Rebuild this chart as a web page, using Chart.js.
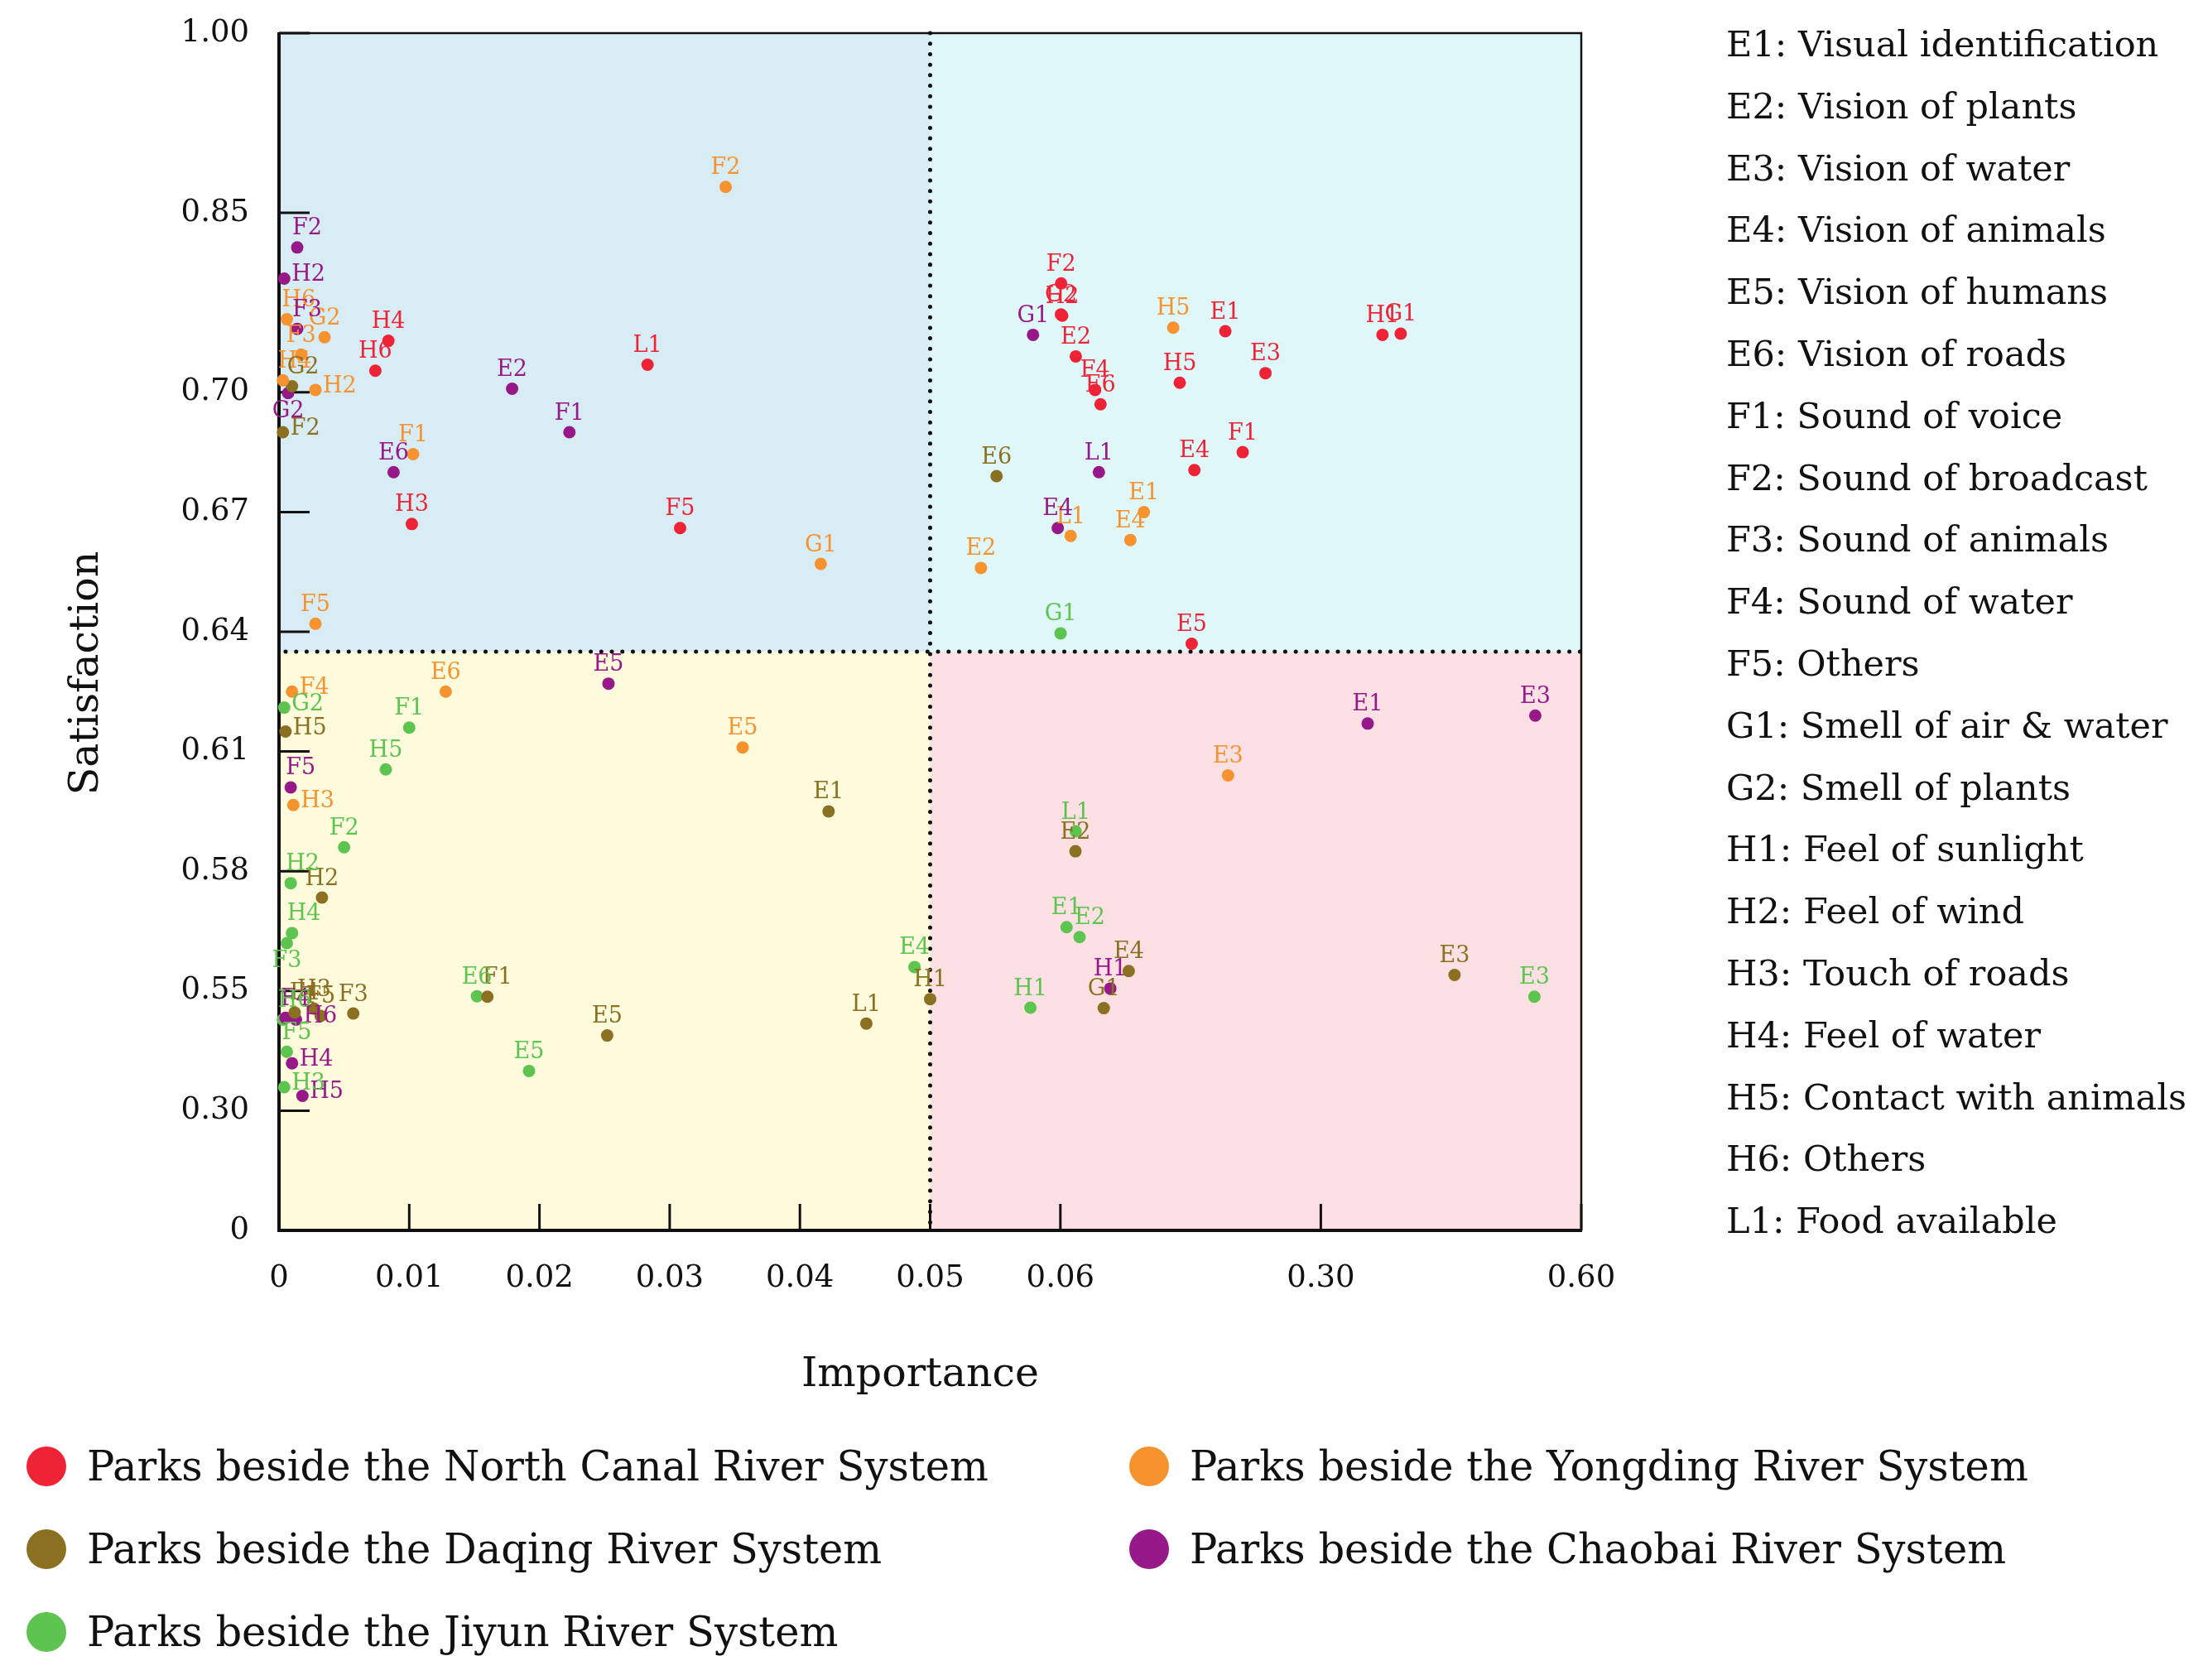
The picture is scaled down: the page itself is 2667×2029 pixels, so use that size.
<!DOCTYPE html>
<html>
<head>
<meta charset="utf-8">
<script src="https://cdn.jsdelivr.net/npm/chart.js@4.4.1/dist/chart.umd.min.js"></script>
<style>
  html, body { margin: 0; padding: 0; background: #ffffff; }
  #wrap { position: relative; width: 2667px; height: 2029px; overflow: hidden; font-family: 'DejaVu Serif', serif; color: #111111; }
  #c { position: absolute; left: 0; top: 0; }
  #codes { position: absolute; left: 2085px; top: 16px; font-size: 43px; line-height: 74.8px; white-space: nowrap; }
  #legend { position: absolute; left: 32px; top: 1721px; display: grid; grid-template-columns: 1332px 1000px; grid-auto-rows: 100px; }
  #legend .item { display: flex; align-items: center; font-size: 49.5px; white-space: nowrap; }
  #legend .dot { width: 48px; height: 48px; border-radius: 50%; margin-right: 25px; flex: none; }
</style>
</head>
<body>
<div id="wrap">
  <canvas id="c" width="2667" height="2029"></canvas>
  <div id="codes"></div>
  <div id="legend"></div>
</div>
<script>
// ---------------- data ----------------
const xTickValues = [0, 0.01, 0.02, 0.03, 0.04, 0.05, 0.06, 0.30, 0.60];
const yTickValues = [0, 0.30, 0.55, 0.58, 0.61, 0.64, 0.67, 0.70, 0.85, 1.00];
const importanceSplit = 0.05;
const satisfactionSplit = 0.635;

const seriesNames = [
  'Parks beside the North Canal River System',
  'Parks beside the Yongding River System',
  'Parks beside the Daqing River System',
  'Parks beside the Chaobai River System',
  'Parks beside the Jiyun River System'
];

const northCanalCodes = ['E1','E2','E3','E4','E5','E6','F1','F2','F4','F5','G1','G2','H1','H2','H3','H4','H5','H6','L1'];
const northCanalImportance = [0.212, 0.0742, 0.249, 0.1835, 0.181, 0.097, 0.228, 0.0607, 0.092, 0.0308, 0.392, 0.0605, 0.371, 0.0617, 0.0102, 0.0084, 0.170, 0.0074, 0.0283];
const northCanalSatisfaction = [0.751, 0.730, 0.716, 0.6805, 0.637, 0.697, 0.685, 0.791, 0.702, 0.666, 0.749, 0.765, 0.748, 0.764, 0.667, 0.743, 0.708, 0.718, 0.723];

const yongdingCodes = ['E1','E2','E3','E4','E5','E6','F1','F2','F3','F4','F5','G1','G2','H2','H3','H4','H5','H6','L1'];
const yongdingImportance = [0.137, 0.0539, 0.2145, 0.1245, 0.0356, 0.0128, 0.0103, 0.0343, 0.0017, 0.001, 0.0028, 0.0416, 0.0035, 0.0028, 0.0011, 0.0003, 0.164, 0.0006, 0.0695];
const yongdingSatisfaction = [0.670, 0.656, 0.604, 0.663, 0.611, 0.625, 0.6845, 0.8715, 0.7315, 0.625, 0.642, 0.657, 0.746, 0.702, 0.5966, 0.710, 0.754, 0.761, 0.664];

const daqingCodes = ['E1','E2','E3','E4','E5','E6','F1','F2','F3','F5','G1','G2','H1','H2','H3','H5','L1','F4'];
const daqingImportance = [0.0422, 0.0739, 0.454, 0.123, 0.0252, 0.0551, 0.016, 0.0003, 0.0057, 0.0032, 0.100, 0.001, 0.050, 0.0033, 0.0027, 0.0005, 0.0451, 0.0012];
const daqingSatisfaction = [0.595, 0.585, 0.554, 0.555, 0.457, 0.679, 0.538, 0.690, 0.503, 0.498, 0.514, 0.705, 0.533, 0.5734, 0.513, 0.615, 0.482, 0.505];

const chaobaiCodes = ['E1','E2','E3','E4','E5','E6','F1','F2','F3','F5','G1','G2','H1','H2','H4','H5','H6','L1','F4'];
const chaobaiImportance = [0.354, 0.0179, 0.547, 0.0598, 0.0253, 0.0088, 0.0223, 0.0014, 0.0014, 0.0009, 0.0579, 0.0007, 0.106, 0.0004, 0.001, 0.0018, 0.0013, 0.0955, 0.0005];
const chaobaiSatisfaction = [0.617, 0.703, 0.619, 0.666, 0.627, 0.680, 0.690, 0.821, 0.753, 0.601, 0.748, 0.6998, 0.5506, 0.795, 0.399, 0.331, 0.490, 0.680, 0.494];

const jiyunCodes = ['E1','E2','E3','E4','E5','E6','F1','F2','F3','F5','G1','G2','H1','H2','H3','H4','H5','L1','H6'];
const jiyunImportance = [0.0657, 0.0777, 0.546, 0.0488, 0.0192, 0.0152, 0.010, 0.005, 0.0006, 0.0006, 0.0602, 0.0004, 0.0577, 0.0009, 0.0004, 0.001, 0.0082, 0.0741, 0.0003];
const jiyunSatisfaction = [0.566, 0.5635, 0.538, 0.556, 0.383, 0.539, 0.616, 0.586, 0.562, 0.423, 0.6396, 0.621, 0.515, 0.577, 0.349, 0.5645, 0.6055, 0.590, 0.490];

const factorDescriptions = [
  'E1: Visual identification', 'E2: Vision of plants', 'E3: Vision of water', 'E4: Vision of animals',
  'E5: Vision of humans', 'E6: Vision of roads', 'F1: Sound of voice', 'F2: Sound of broadcast',
  'F3: Sound of animals', 'F4: Sound of water', 'F5: Others', 'G1: Smell of air & water',
  'G2: Smell of plants', 'H1: Feel of sunlight', 'H2: Feel of wind', 'H3: Touch of roads',
  'H4: Feel of water', 'H5: Contact with animals', 'H6: Others', 'L1: Food available'
];

// ---------------- presentation ----------------
const seriesColors = ['#ee2436', '#f7932f', '#8a7020', '#961889', '#5dc450'];
// axis break layout: fraction of the axis length at each tick value
const xStops = [0, 0.1, 0.2, 0.3, 0.4, 0.5, 0.6, 0.8, 1.0];
const yStops = [0, 0.1, 0.2, 0.3, 0.4, 0.5, 0.6, 0.7, 0.85, 1.0];
// axis-title nudges (pixels) to match the original placement
const titleShift = { x: [-12, 0], y: [0, 50] };
// label placement hints (default: above the point)
const labelPlacement = {
  '1|H6': 'tr', '1|H4': 'tr', '1|H2': 'r', '1|F4': 'r', '1|H3': 'r',
  '2|G2': 'tr', '2|F2': 'r', '2|H5': 'r', '2|F1': 'tr', '2|F4': 'tr',
  '3|F2': 'tr', '3|H2': 'r', '3|F3': 'tr', '3|G2': 'b', '3|F5': 'tr', '3|H6': 'r', '3|H4': 'r', '3|H5': 'r', '3|F4': 'tr',
  '4|G2': 'r', '4|H2': 'tr', '4|H4': 'tr', '4|F3': 'b', '4|F5': 'tr', '4|H3': 'r', '4|E2': 'tr', '4|H6': 'tr'
};

// ---------------- piecewise scale ----------------
class PiecewiseScale extends Chart.LinearScale {
  static id = 'piecewise';
  static defaults = {};
  _maps() {
    return this.axis === 'x' ? [xTickValues, xStops] : [yTickValues, yStops];
  }
  determineDataLimits() {
    const [b] = this._maps();
    this.min = b[0];
    this.max = b[b.length - 1];
  }
  buildTicks() {
    const [b] = this._maps();
    this.min = b[0];
    this.max = b[b.length - 1];
    return b.map(v => ({ value: v }));
  }
  _toDecimal(v) {
    const [b, p] = this._maps();
    if (v <= b[0]) return p[0];
    for (let i = 1; i < b.length; i++) {
      if (v <= b[i]) return p[i - 1] + (v - b[i - 1]) / (b[i] - b[i - 1]) * (p[i] - p[i - 1]);
    }
    return p[p.length - 1];
  }
  getPixelForValue(v) {
    if (v === null || v === undefined || isNaN(v)) return NaN;
    return this.getPixelForDecimal(this._toDecimal(v));
  }
  getValueForPixel(px) {
    const [b, p] = this._maps();
    const d = this.getDecimalForPixel(px);
    for (let i = 1; i < p.length; i++) {
      if (d <= p[i]) return b[i - 1] + (d - p[i - 1]) / (p[i] - p[i - 1]) * (b[i] - b[i - 1]);
    }
    return b[b.length - 1];
  }
  drawTitle() {
    const s = titleShift[this.axis] || [0, 0];
    this.ctx.save();
    this.ctx.translate(s[0], s[1]);
    super.drawTitle();
    this.ctx.restore();
  }
}
Chart.register(PiecewiseScale);

function buildPoints(imp, sat) { return imp.map((v, i) => ({ x: v, y: sat[i] })); }
const seriesCodes = [northCanalCodes, yongdingCodes, daqingCodes, chaobaiCodes, jiyunCodes];
const seriesPoints = [
  buildPoints(northCanalImportance, northCanalSatisfaction),
  buildPoints(yongdingImportance, yongdingSatisfaction),
  buildPoints(daqingImportance, daqingSatisfaction),
  buildPoints(chaobaiImportance, chaobaiSatisfaction),
  buildPoints(jiyunImportance, jiyunSatisfaction)
];

const quadrantPlugin = {
  id: 'quadrants',
  beforeDatasetsDraw(chart) {
    const { ctx, chartArea: a, scales: { x, y } } = chart;
    const xm = x.getPixelForValue(importanceSplit);
    const ym = y.getPixelForValue(satisfactionSplit);
    ctx.save();
    ctx.fillStyle = '#d8ecf6'; ctx.fillRect(a.left, a.top, xm - a.left, ym - a.top);
    ctx.fillStyle = '#dff7f9'; ctx.fillRect(xm, a.top, a.right - xm, ym - a.top);
    ctx.fillStyle = '#fefadc'; ctx.fillRect(a.left, ym, xm - a.left, a.bottom - ym);
    ctx.fillStyle = '#fde0e3'; ctx.fillRect(xm, ym, a.right - xm, a.bottom - ym);
    // dotted split lines
    ctx.strokeStyle = '#111111';
    ctx.lineWidth = 5;
    ctx.lineCap = 'round';
    ctx.setLineDash([0.01, 12.7]);
    ctx.beginPath(); ctx.moveTo(a.left + 8, ym); ctx.lineTo(a.right, ym); ctx.stroke();
    ctx.beginPath(); ctx.moveTo(xm, a.top); ctx.lineTo(xm, a.bottom); ctx.stroke();
    ctx.setLineDash([]);
    ctx.lineCap = 'butt';
    // inward tick marks
    ctx.lineWidth = 3;
    ctx.strokeStyle = '#111111';
    y.ticks.forEach(t => {
      const py = y.getPixelForValue(t.value);
      ctx.beginPath(); ctx.moveTo(a.left, py); ctx.lineTo(a.left + 37, py); ctx.stroke();
    });
    x.ticks.forEach(t => {
      const px = x.getPixelForValue(t.value);
      ctx.beginPath(); ctx.moveTo(px, a.bottom); ctx.lineTo(px, a.bottom - 32); ctx.stroke();
    });
    // frame
    ctx.lineWidth = 2.5;
    ctx.beginPath(); ctx.moveTo(a.left, a.top); ctx.lineTo(a.right, a.top); ctx.lineTo(a.right, a.bottom); ctx.stroke();
    ctx.lineWidth = 4;
    ctx.beginPath(); ctx.moveTo(a.left, a.top - 1); ctx.lineTo(a.left, a.bottom); ctx.lineTo(a.right + 1, a.bottom); ctx.stroke();
    ctx.restore();
  },
  afterDatasetsDraw(chart) {
    const { ctx } = chart;
    ctx.save();
    ctx.font = '27px "DejaVu Serif"';
    chart.data.datasets.forEach((ds, di) => {
      const meta = chart.getDatasetMeta(di);
      ctx.fillStyle = ds.backgroundColor;
      meta.data.forEach((el, i) => {
        const code = ds.codes[i];
        const place = labelPlacement[di + '|' + code] || 't';
        let tx = el.x, ty = el.y;
        if (place === 't') { ctx.textAlign = 'center'; ctx.textBaseline = 'bottom'; ty -= 9; }
        else if (place === 'tr') { ctx.textAlign = 'left'; ctx.textBaseline = 'bottom'; tx -= 6; ty -= 9; }
        else if (place === 'r') { ctx.textAlign = 'left'; ctx.textBaseline = 'middle'; tx += 9; ty -= 4; }
        else if (place === 'b') { ctx.textAlign = 'center'; ctx.textBaseline = 'top'; ty += 9; }
        ctx.fillText(code, tx, ty);
      });
    });
    ctx.restore();
  }
};

const chart = new Chart(document.getElementById('c'), {
  type: 'scatter',
  data: {
    datasets: seriesNames.map((name, i) => ({
      label: name,
      data: seriesPoints[i],
      codes: seriesCodes[i],
      backgroundColor: seriesColors[i],
      borderWidth: 0,
      pointRadius: 7.5,
      pointHoverRadius: 7.5,
      clip: false
    }))
  },
  options: {
    responsive: false,
    devicePixelRatio: 1,
    animation: false,
    events: [],
    layout: { padding: { left: 0, top: 40, right: 757, bottom: 0 } },
    plugins: { legend: { display: false }, tooltip: { enabled: false } },
    scales: {
      x: {
        type: 'piecewise',
        position: 'bottom',
        grid: { display: false, drawTicks: false },
        border: { display: false },
        ticks: {
          autoSkip: false, maxRotation: 0, minRotation: 0, padding: 36,
          color: '#111111', font: { family: 'DejaVu Serif', size: 37 },
          callback: v => (v === 0 ? '0' : Number(v).toFixed(2))
        },
        title: {
          display: true, text: 'Importance', color: '#111111',
          font: { family: 'DejaVu Serif', size: 49 }, padding: { top: 0, bottom: 338 }
        },
        afterFit: s => { s.height = 543; s.paddingLeft = 0; s.paddingRight = 0; }
      },
      y: {
        type: 'piecewise',
        position: 'left',
        grid: { display: false, drawTicks: false },
        border: { display: false },
        ticks: {
          autoSkip: false, padding: 36,
          color: '#111111', font: { family: 'DejaVu Serif', size: 37 },
          callback: v => (v === 0 ? '0' : Number(v).toFixed(2))
        },
        title: {
          display: true, text: 'Satisfaction', color: '#111111',
          font: { family: 'DejaVu Serif', size: 49 }, padding: { top: 76, bottom: 0 }
        },
        afterFit: s => { s.width = 337; s.paddingTop = 0; s.paddingBottom = 0; }
      }
    }
  },
  plugins: [quadrantPlugin]
});

// right-hand code list
document.getElementById('codes').innerHTML = factorDescriptions.map(t => '<div>' + t.replace('&', '&amp;') + '</div>').join('');
// legend from datasets
const legendEl = document.getElementById('legend');
chart.data.datasets.forEach(ds => {
  const item = document.createElement('div');
  item.className = 'item';
  const dot = document.createElement('span');
  dot.className = 'dot';
  dot.style.background = ds.backgroundColor;
  const txt = document.createElement('span');
  txt.textContent = ds.label;
  item.appendChild(dot); item.appendChild(txt);
  legendEl.appendChild(item);
});
</script>
</body>
</html>
